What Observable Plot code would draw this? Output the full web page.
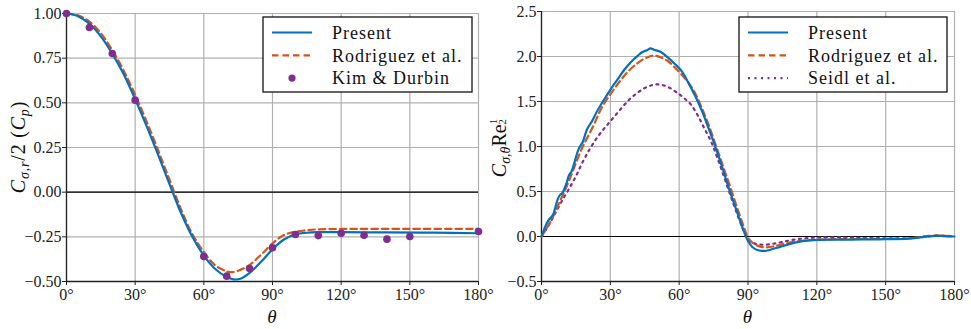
<!DOCTYPE html>
<html><head><meta charset="utf-8">
<script src="https://cdn.jsdelivr.net/npm/d3@7"></script>
<script src="https://cdn.jsdelivr.net/npm/@observablehq/plot@0.6"></script>
<style>
body{margin:0;background:#fff;}
#wrap{display:flex;width:971px;height:329px;}
#wrap svg{overflow:visible;flex:none;}
#wrap svg text{font-family:"Liberation Serif","DejaVu Serif",serif;}
</style></head><body><div id="wrap"></div>
<script>
// ---------- data ----------
const xTicks = [0, 30, 60, 90, 120, 150, 180];
const leftYTicks = [-0.5, -0.25, 0, 0.25, 0.5, 0.75, 1];
const rightYTicks = [-0.5, 0, 0.5, 1, 1.5, 2, 2.5];

const seriesNames = ["Present", "Rodriguez et al.", "Kim & Durbin", "Seidl et al."];

// Left panel: C_sigma,r / 2 (Cp)
const leftPresentTheta = [0,5,10,15,20,25,30,35,40,45,50,55,60,65,70,73,76,80,85,90,95,100,105,110,120,140,160,180];
const leftPresentValue = [1.00,0.985,0.943,0.872,0.775,0.66,0.52,0.37,0.21,0.045,-0.115,-0.25,-0.355,-0.43,-0.475,-0.488,-0.485,-0.452,-0.39,-0.32,-0.265,-0.236,-0.227,-0.224,-0.224,-0.225,-0.227,-0.23];

const leftRodTheta = [0,5,10,15,20,25,30,35,40,45,50,55,60,65,70,72,75,80,85,90,95,100,105,110,120,150,180];
const leftRodValue = [1.00,0.99,0.955,0.89,0.795,0.68,0.545,0.395,0.235,0.07,-0.095,-0.235,-0.335,-0.41,-0.443,-0.448,-0.44,-0.407,-0.35,-0.287,-0.24,-0.222,-0.213,-0.208,-0.206,-0.205,-0.205];

const kimTheta = [0,10,20,30,60,70,80,90,100,110,120,130,140,150,180];
const kimValue = [1.0,0.922,0.776,0.515,-0.36,-0.47,-0.427,-0.311,-0.237,-0.243,-0.23,-0.241,-0.263,-0.248,-0.22];

// Right panel: C_sigma,theta Re^(1/2)
const rightPresentTheta = [0,1,2,3,4,5,6,7,8,9,10,11,12,13,14,15,16,17,18,19,20,22,24,26,28,30,33,36,39,42,44,46,47.5,49,52,55,58,61,64,67,70,73,76,79,82,85,88,90,92,94,96,98,100,104,108,112,116,120,130,140,150,160,165,170,175,180];
const rightPresentValue = [0,0.07,0.13,0.18,0.21,0.24,0.32,0.41,0.46,0.48,0.53,0.6,0.68,0.72,0.79,0.88,0.96,1.01,1.05,1.13,1.2,1.28,1.38,1.47,1.55,1.63,1.74,1.85,1.94,2.01,2.05,2.07,2.09,2.075,2.05,1.99,1.92,1.84,1.71,1.56,1.39,1.19,0.98,0.75,0.51,0.29,0.07,-0.05,-0.12,-0.15,-0.16,-0.158,-0.145,-0.115,-0.085,-0.06,-0.045,-0.038,-0.035,-0.033,-0.03,-0.025,-0.01,0.005,0.005,0];

const rightRodTheta = [0,2,4,6,8,10,12,14,16,18,20,23,26,30,34,38,42,46,49,52,55,58,61,64,67,70,73,76,79,82,85,88,90,92,95,98,101,105,110,115,120,135,150,160,168,172,176,180];
const rightRodValue = [0,0.08,0.17,0.27,0.39,0.5,0.62,0.75,0.88,1.0,1.1,1.25,1.42,1.58,1.72,1.84,1.93,1.99,2.01,1.99,1.95,1.88,1.8,1.71,1.59,1.42,1.23,1.01,0.79,0.57,0.34,0.12,-0.01,-0.07,-0.11,-0.12,-0.11,-0.085,-0.06,-0.045,-0.035,-0.028,-0.025,-0.02,0.005,0.012,0.008,0];

const rightSeidlTheta = [0,3,6,9,12,15,18,21,24,27,30,33,36,39,42,45,48,50,53,56,59,62,65,68,71,74,77,80,83,86,88,90,92,95,98,101,105,110,115,120,130,140,150,160,165,170,175,180];
const rightSeidlValue = [0,0.12,0.26,0.4,0.53,0.67,0.83,0.97,1.09,1.19,1.28,1.37,1.46,1.54,1.6,1.65,1.68,1.69,1.68,1.65,1.6,1.54,1.47,1.35,1.2,1.05,0.85,0.63,0.41,0.2,0.07,-0.03,-0.07,-0.09,-0.09,-0.08,-0.06,-0.035,-0.02,-0.012,-0.01,-0.015,-0.02,-0.02,-0.01,0.005,0.01,0];

// ---------- styles ----------
const BLUE = "#0072BD", ORANGE = "#D95319", PURPLE = "#7E2F8E";
const GRID = "#b0b0b0", INK = "#222";
const FONT = "Liberation Serif, DejaVu Serif, serif";

const zip = (ts, vs) => ts.map((t, i) => ({t, v: vs[i]}));

function basePlot({width, ml, mr, mt, mb, ydom, yticks, yfmt, marks}) {
  return Plot.plot({
    width, height: 329,
    marginLeft: ml, marginRight: mr, marginTop: mt, marginBottom: mb,
    style: {fontFamily: FONT, fontSize: "16px", background: "transparent", color: INK, overflow: "visible"},
    x: {domain: [0, 180], label: null},
    y: {domain: ydom, label: null},
    marks: [
      Plot.gridX(xTicks, {stroke: GRID, strokeOpacity: 1, strokeWidth: 1.2}),
      Plot.gridY(yticks, {stroke: GRID, strokeOpacity: 1, strokeWidth: 1.2}),
      Plot.ruleY([0], {stroke: "#000", strokeWidth: 1.2}),
      Plot.axisX(xTicks, {tickFormat: d => d + "°", tickSize: 4, tickPadding: 3, label: null, fontSize: 16}),
      Plot.axisY(yticks, {tickFormat: yfmt, tickSize: 4, tickPadding: 1, label: null, fontSize: 16}),
      Plot.ruleX([0], {stroke: INK, strokeWidth: 1.3}),
      Plot.ruleY([ydom[0]], {stroke: INK, strokeWidth: 1.3}),
      ...marks
    ]
  });
}

function legend(svg, x0, y0, w, h, entries) {
  const g = d3.select(svg).append("g").attr("font-family", FONT).attr("text-anchor", "start");
  g.append("rect").attr("x", x0).attr("y", y0).attr("width", w).attr("height", h)
    .attr("fill", "white").attr("stroke", "#111").attr("stroke-width", 1.3);
  entries.forEach((e, i) => {
    const cy = y0 + 15.5 + i * 22.8;
    if (e.type === "dot") {
      g.append("circle").attr("cx", x0 + 29).attr("cy", cy).attr("r", 3.6).attr("fill", e.color);
    } else {
      g.append("line").attr("x1", x0 + 9).attr("x2", x0 + 49).attr("y1", cy).attr("y2", cy)
        .attr("stroke", e.color).attr("stroke-width", 2.2)
        .attr("stroke-dasharray", e.dash || null);
    }
    g.append("text").attr("x", x0 + 69).attr("y", cy).attr("dy", "0.35em").attr("text-anchor", "start")
      .attr("font-size", 18).attr("letter-spacing", 1).attr("fill", "#111").text(e.label);
  });
}

function xLabel(svg, x, y) {
  d3.select(svg).append("text").attr("x", x).attr("y", y).attr("text-anchor", "middle")
    .attr("font-family", FONT).attr("font-size", 19).attr("font-style", "italic").attr("fill", "#111").text("θ");
}

// ---------- left panel ----------
const left = basePlot({
  width: 485, ml: 66, mr: 7, mt: 13, mb: 48,
  ydom: [-0.5, 1], yticks: leftYTicks, yfmt: d3.format(".2f"),
  marks: [
    Plot.line(zip(leftRodTheta, leftRodValue), {x: "t", y: "v", stroke: ORANGE, strokeWidth: 2.2, strokeDasharray: "6.5,4", curve: "catmull-rom"}),
    Plot.line(zip(leftPresentTheta, leftPresentValue), {x: "t", y: "v", stroke: BLUE, strokeWidth: 2.2, curve: "catmull-rom"}),
    Plot.dot(zip(kimTheta, kimValue), {x: "t", y: "v", r: 3.8, fill: PURPLE, stroke: "none"})
  ]
});
legend(left, 263, 17, 209, 75, [
  {label: seriesNames[0], color: BLUE},
  {label: seriesNames[1], color: ORANGE, dash: "6.5,4"},
  {label: seriesNames[2], color: PURPLE, type: "dot"}
]);
xLabel(left, 272, 323);
{
  const t = d3.select(left).append("text")
    .attr("transform", "translate(25,147) rotate(-90)").attr("text-anchor", "middle")
    .attr("font-family", FONT).attr("font-size", 20).attr("letter-spacing", 0.8).attr("fill", "#111");
  t.append("tspan").attr("font-style", "italic").text("C");
  t.append("tspan").attr("font-style", "italic").attr("font-size", 14).attr("dy", 4).text("σ,r");
  t.append("tspan").attr("dy", -4).text("/2 (");
  t.append("tspan").attr("font-style", "italic").text("C");
  t.append("tspan").attr("font-style", "italic").attr("font-size", 14).attr("dy", 4).text("p");
  t.append("tspan").attr("dy", -4).text(")");
}

// ---------- right panel ----------
const right = basePlot({
  width: 486, ml: 56, mr: 17, mt: 11, mb: 48,
  ydom: [-0.5, 2.5], yticks: rightYTicks, yfmt: d3.format(".1f"),
  marks: [
    Plot.line(zip(rightSeidlTheta, rightSeidlValue), {x: "t", y: "v", stroke: PURPLE, strokeWidth: 2.2, strokeDasharray: "2,4.5", curve: "catmull-rom"}),
    Plot.line(zip(rightRodTheta, rightRodValue), {x: "t", y: "v", stroke: ORANGE, strokeWidth: 2.2, strokeDasharray: "6.5,4", curve: "catmull-rom"}),
    Plot.line(zip(rightPresentTheta, rightPresentValue), {x: "t", y: "v", stroke: BLUE, strokeWidth: 2.2, curve: "catmull-rom"})
  ]
});
legend(right, 254, 17, 208, 75, [
  {label: seriesNames[0], color: BLUE},
  {label: seriesNames[1], color: ORANGE, dash: "6.5,4"},
  {label: seriesNames[3], color: PURPLE, dash: "2,4.5"}
]);
xLabel(right, 262.5, 323);
{
  const t = d3.select(right).append("text")
    .attr("transform", "translate(21,148) rotate(-90)").attr("text-anchor", "middle")
    .attr("font-family", FONT).attr("font-size", 20).attr("fill", "#111");
  t.append("tspan").attr("font-style", "italic").text("C");
  t.append("tspan").attr("font-style", "italic").attr("font-size", 14).attr("dy", 4).text("σ,θ");
  t.append("tspan").attr("dy", -4).text("Re");
  t.append("tspan").attr("font-size", 11).attr("dy", -9).text("1");
  t.append("tspan").attr("font-size", 11).attr("dx", -6).attr("dy", 9).text("2");
}

const wrap = document.getElementById("wrap");
wrap.appendChild(left);
wrap.appendChild(right);
</script></body></html>
